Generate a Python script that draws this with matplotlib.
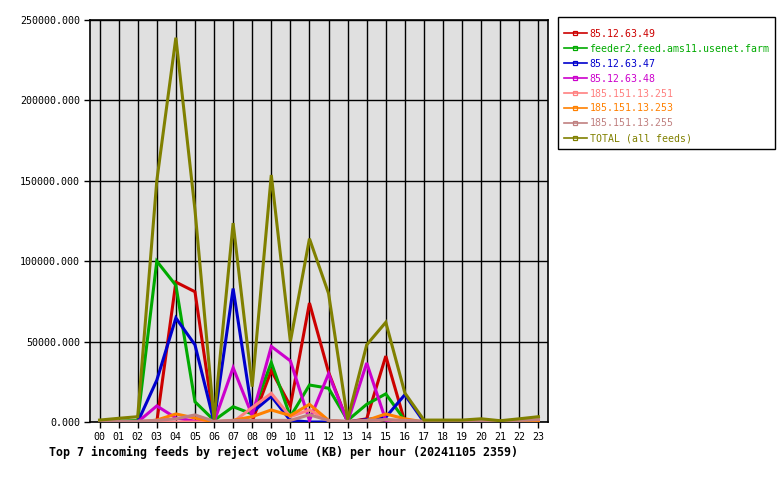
import matplotlib
matplotlib.use("Agg")
import matplotlib.pyplot as plt
from matplotlib.lines import Line2D
from matplotlib.ticker import FuncFormatter, MultipleLocator

hours = ["%02d" % h for h in range(24)]

feed_names = ["85.12.63.49", "feeder2.feed.ams11.usenet.farm", "85.12.63.47",
              "85.12.63.48", "185.151.13.251", "185.151.13.253", "185.151.13.255",
              "TOTAL (all feeds)"]
feed_colors = ["#cc0000", "#00aa00", "#0000cc", "#cc00cc", "#ff8080",
               "#ff8000", "#c08080", "#808000"]

red_49 = [0, 0, 0, 0, 87000, 81000, 0, 0, 500, 32000, 10000, 74000,
          31000, 0, 2000, 41000, 0, 0, 0, 0, 0, 0, 0, 0]
green_feeder2 = [0, 500, 1000, 100000, 85000, 12600, 1000, 9500, 5000, 37000, 3300, 23000,
                 21000, 1000, 11000, 17500, 1000, 0, 0, 0, 0, 0, 0, 0]
blue_47 = [0, 0, 0, 26000, 64700, 48000, 0, 83000, 6000, 16000, 1000, 0,
           0, 0, 1500, 3000, 17000, 0, 0, 0, 0, 0, 0, 0]
magenta_48 = [0, 0, 0, 10000, 2500, 500, 0, 33800, 4000, 47000, 38000, 1000,
              30000, 0, 36700, 1000, 0, 0, 0, 0, 0, 0, 0, 0]
salmon_251 = [0, 0, 0, 0, 0, 0, 0, 0, 9000, 17800, 3300, 7500,
              1000, 0, 0, 1500, 0, 0, 0, 0, 0, 0, 0, 0]
orange_253 = [0, 0, 0, 1200, 5000, 2500, 0, 1000, 3300, 7500, 4000, 11000,
              1000, 0, 1000, 5000, 2000, 0, 0, 0, 0, 0, 0, 0]
rosy_255 = [500, 500, 500, 1000, 2000, 4400, 500, 1000, 1000, 1000, 1000, 4500,
            1000, 500, 1000, 1500, 1000, 500, 500, 500, 500, 500, 1000, 1500]
total_all = [1200, 2300, 3300, 150000, 239000, 132000, 1500, 123700, 22000, 153600, 50000, 114000,
             80000, 1500, 48000, 62000, 18000, 1200, 1200, 1200, 2000, 800, 2000, 3300]

series = [red_49, green_feeder2, blue_47, magenta_48, salmon_251, orange_253, rosy_255, total_all]

mono = "DejaVu Sans Mono"

fig = plt.figure(figsize=(7.8, 4.8), dpi=100)
fig.patch.set_facecolor("white")
ax = fig.add_axes([90 / 780, 58 / 480, 458 / 780, 402 / 480])
ax.set_facecolor("#e0e0e0")

x = list(range(len(hours)))
for vals, col in zip(series, feed_colors):
    ax.plot(x, vals, color=col, lw=2.2, solid_joinstyle="miter", zorder=3)

ax.set_xlim(-0.5, 23.5)
ax.set_ylim(0, 250000)
ax.set_xticks(x)
ax.set_xticklabels(hours)
ax.yaxis.set_major_locator(MultipleLocator(50000))
ax.yaxis.set_major_formatter(FuncFormatter(lambda v, p: "%.3f" % v))
ax.grid(True, color="black", lw=1.0, zorder=1)
ax.set_axisbelow(True)
for s in ax.spines.values():
    s.set_color("black")
    s.set_linewidth(1.2)
ax.tick_params(axis="both", direction="out", length=4, width=1, color="black",
               labelsize=7.2, pad=3)
for lbl in ax.get_xticklabels() + ax.get_yticklabels():
    lbl.set_family(mono)

fig.text(49 / 780, 1 - 452 / 480,
         "Top 7 incoming feeds by reject volume (KB) per hour (20241105 2359)",
         family=mono, fontweight="bold", fontsize=8.34, va="center", ha="left")

handles = [Line2D([0], [0], color=c, lw=1.2, marker="s", markersize=2.5,
                  markerfacecolor="none", markeredgecolor=c, markeredgewidth=0.9)
           for c in feed_colors]
leg = fig.legend(handles, feed_names, loc="upper left",
                 bbox_to_anchor=(558 / 780, 1 - 17 / 480),
                 prop={"family": mono, "size": 7.1}, frameon=True, fancybox=False,
                 edgecolor="black", framealpha=1, handlelength=2.3, handletextpad=0.3,
                 labelspacing=0.5, borderpad=0.6, borderaxespad=0,
                 title=" ", title_fontsize=1)
leg.get_frame().set_linewidth(1.0)
for txt, c in zip(leg.get_texts(), feed_colors):
    txt.set_color(c)

fig.savefig("out.png", dpi=100)
